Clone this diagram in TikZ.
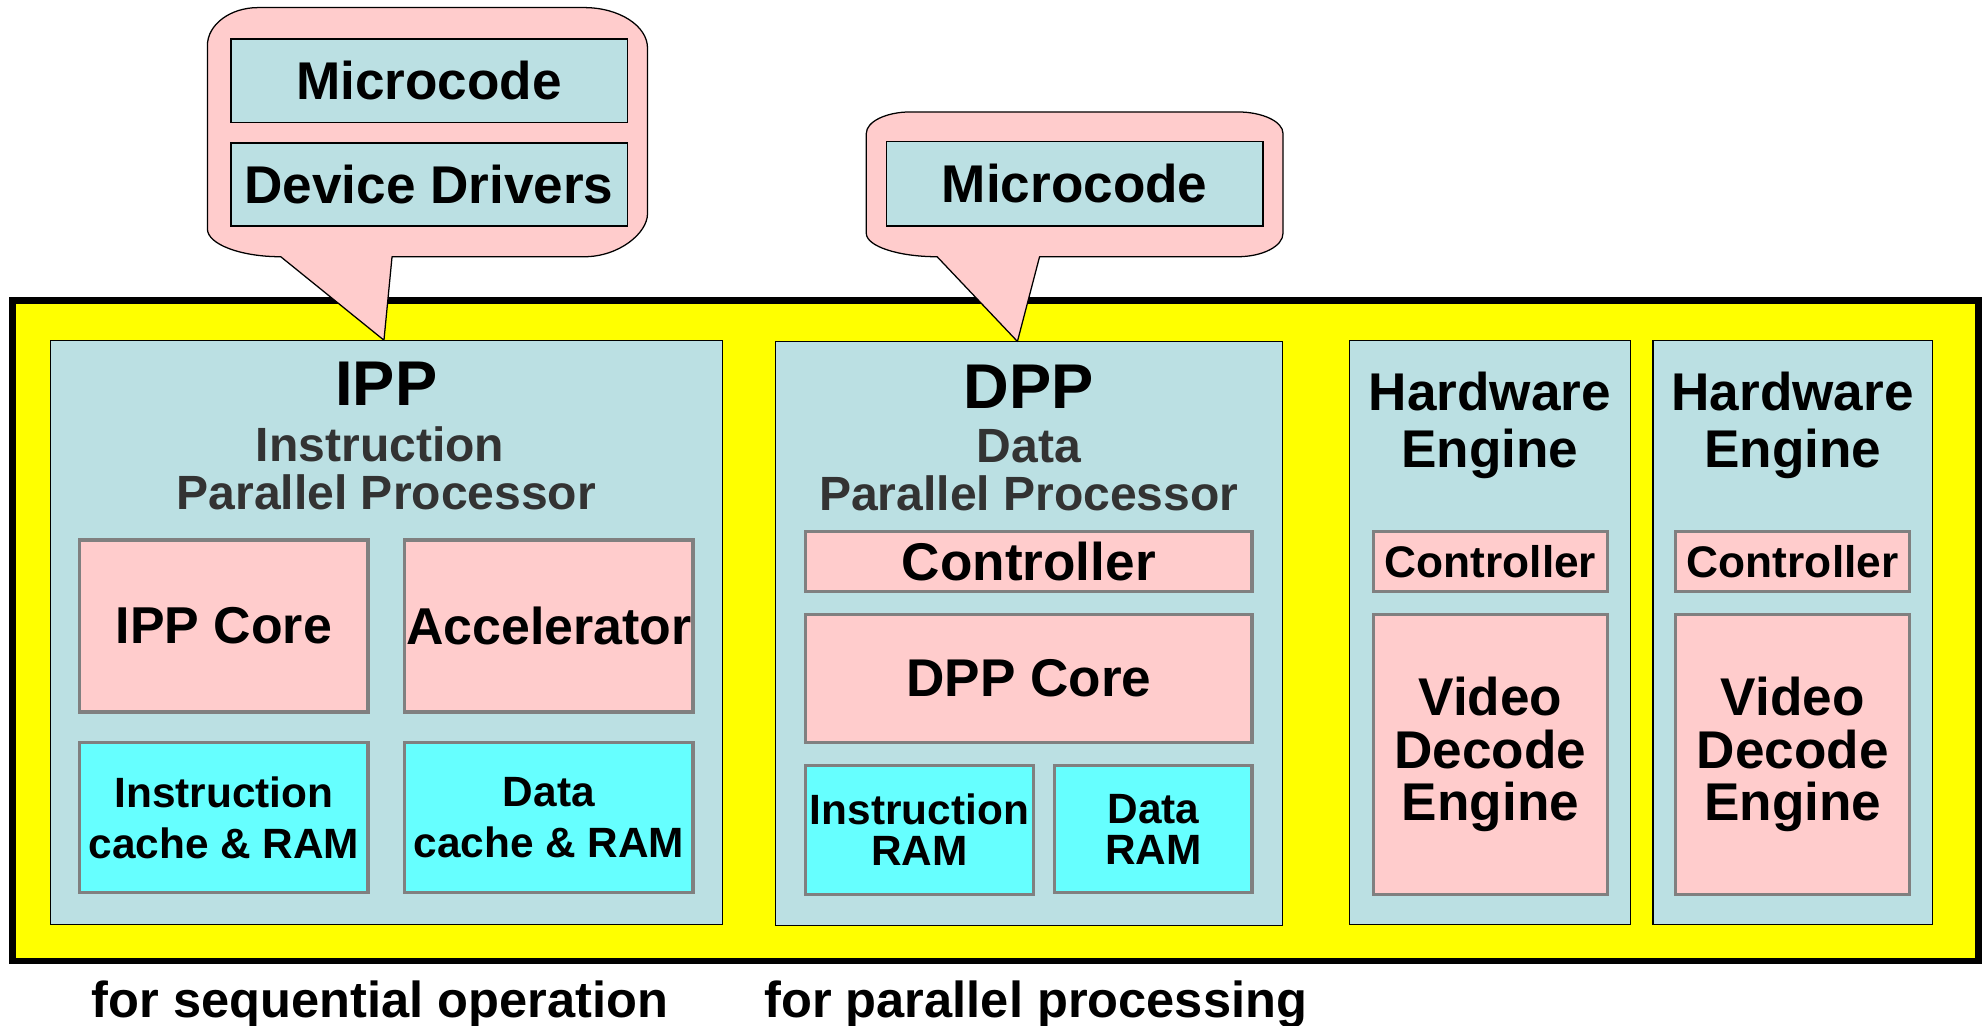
\documentclass[tikz,border=0pt]{standalone}
\usepackage{fontspec}
\setmainfont{Liberation Sans}
\definecolor{chipyellow}{RGB}{255,255,0}
\definecolor{panelblue}{HTML}{BBE0E3}
\definecolor{pinkfill}{HTML}{FFCCCC}
\definecolor{cyanfill}{HTML}{66FFFF}
\definecolor{boxgray}{HTML}{808080}
\definecolor{subgray}{HTML}{333333}
\newcommand\myfs[2]{\fontsize{#1}{#2}\selectfont\bfseries}
\begin{document}
\begin{tikzpicture}[x=1pt,y=-1pt,
  sz/.style 2 args={minimum width=#1pt, minimum height=#2pt},
  chipframe/.style={draw=black, fill=chipyellow, line width=5pt, inner sep=0pt},
  panel/.style={draw=black, fill=panelblue, line width=1pt, inner sep=0pt},
  pinkbox/.style={draw=boxgray, fill=pinkfill, line width=2.5pt, inner sep=0pt, align=center},
  cyanbox/.style={draw=boxgray, fill=cyanfill, line width=2.5pt, inner sep=0pt, align=center},
  codebox/.style={draw=black, fill=panelblue, line width=1.2pt, inner sep=0pt, font=\myfs{42}{42}},
  callout/.style={draw=black, fill=pinkfill, line width=1pt, line join=round},
  titletext/.style={inner sep=0pt, anchor=base, font=\myfs{50}{50}},
  subtitle/.style={inner sep=0pt, align=center, text=subgray, font=\myfs{38}{38}},
  hwtitle/.style={inner sep=0pt, align=center, font=\myfs{42}{45}},
  bottomlabel/.style={inner sep=0pt, anchor=base, font=\myfs{40}{40}}
]
\useasboundingbox[fill=white] (0,0) rectangle (1568,811);

% outer chip frame
\node[chipframe, sz={1554.5}{522.5}] (chip) at (787.25,498.75) {};

% panels
\node[panel, sz={531}{462}] (ipp) at (305.5,500) {};
\node[panel, sz={401}{462}] (dpp) at (813.5,501) {};
\node[panel, sz={222}{462}] (hwa) at (1178,500) {};
\node[panel, sz={221}{462}] (hwb) at (1417.5,500) {};

% titles
\node[titletext] (ipptitle) at (305.5,321) {IPP};
\node[subtitle] (ippsub) at (305.5,370.5) {Instruction\hspace*{10pt}\\Parallel Processor};
\node[titletext] (dpptitle) at (813.5,323) {DPP};
\node[subtitle] (dppsub) at (813.5,372) {Data\\Parallel Processor};
\node[hwtitle] (hwatitle) at (1178,336) {Hardware\\Engine};
\node[hwtitle] (hwbtitle) at (1417.5,336) {Hardware\\Engine};

% IPP blocks
\node[pinkbox, sz={228}{136}, font=\myfs{41}{41}] (ippcore) at (177,495) {IPP Core};
\node[pinkbox, sz={228}{136}, font=\myfs{41}{41}] (accel) at (434,495) {Accelerator};
\node[cyanbox, sz={228}{119}, font=\myfs{33.5}{40}] (icache) at (177,646.5) {Instruction\\cache \& RAM};
\node[cyanbox, sz={228}{119}, font=\myfs{33.5}{40}] (dcache) at (434,646.5) {Data\\cache \& RAM};

% DPP blocks
\node[pinkbox, sz={353}{48}, font=\myfs{42}{42}] (dppctrl) at (813.5,444) {Controller};
\node[pinkbox, sz={353}{101}, font=\myfs{42}{42}] (dppcore) at (813.5,536.5) {DPP Core};
\node[cyanbox, sz={180}{102}, font=\myfs{33.5}{32.5}] (iram) at (727,656) {Instruction\\RAM};
\node[cyanbox, sz={156}{101}, font=\myfs{33.5}{32.5}] (dram) at (912,655.5) {Data\\RAM};

% Hardware engines
\node[pinkbox, sz={185}{48}, font=\myfs{35}{35}] (hwactrl) at (1178.5,444) {Controller};
\node[pinkbox, sz={185}{221}, font=\myfs{42}{41.5}] (hwavde) at (1178.5,596.5) {Video\\Decode\\Engine};
\node[pinkbox, sz={185}{48}, font=\myfs{35}{35}] (hwbctrl) at (1417.5,444) {Controller};
\node[pinkbox, sz={185}{221}, font=\myfs{42}{41.5}] (hwbvde) at (1417.5,596.5) {Video\\Decode\\Engine};

% callouts
\coordinate (ipptip) at (303.6,269);
\coordinate (dpptip) at (804.5,270);
\draw[callout] (164,36) -- (164,181) .. controls (164,193.1) and (190.1,203) .. (222,203)
  -- (ipptip) -- (310,203) -- (462,203) .. controls (489.5,203) and (512,184.3) .. (512,169)
  -- (512,38) .. controls (512,20.4) and (489.5,6) .. (462,6)
  -- (204,6) .. controls (182,6) and (164,19.5) .. (164,36) -- cycle;
\draw[callout] (685,105.5) -- (685,184.5) .. controls (685,194.7) and (710.2,203) .. (741,203)
  -- (dpptip) -- (822,203) -- (978.5,203) .. controls (998.3,203) and (1014.5,194.7) .. (1014.5,184.5)
  -- (1014.5,105.5) .. controls (1014.5,96.15) and (998.3,88.5) .. (978.5,88.5)
  -- (720,88.5) .. controls (700.75,88.5) and (685,96.15) .. (685,105.5) -- cycle;

\node[codebox, sz={313.5}{65.7}] (mcipp) at (339.25,63.85) {Microcode};
\node[codebox, sz={313.5}{65.7}] (drivers) at (339.25,145.85) {Device Drivers};
\node[codebox, sz={297.5}{66.7}] (mcdpp) at (849.75,145.35) {Microcode};

% bottom labels
\node[bottomlabel] (seqlabel) at (300.5,804.5) {for sequential operation};
\node[bottomlabel] (parlabel) at (819,804.5) {for parallel processing};
\end{tikzpicture}
\end{document}
